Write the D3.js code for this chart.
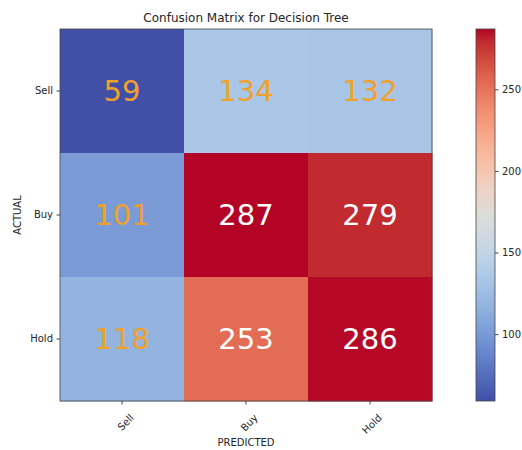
<!DOCTYPE html>
<html>
<head>
<meta charset="utf-8">
<script src="https://cdn.jsdelivr.net/npm/d3@7"></script>
<style>
  body { margin: 0; background: #fff; }
  svg text { font-family: "DejaVu Sans", sans-serif; fill: #262626; }
</style>
</head>
<body>
<div id="chart"></div>
<script>
// DATA
const labels = ["Sell", "Buy", "Hold"];
const rowSell = [59, 134, 132];
const rowBuy = [101, 287, 279];
const rowHold = [118, 253, 286];
const matrix = [rowSell, rowBuy, rowHold];
const cbarTicks = [100, 150, 200, 250];

const WIDTH = 522;
const HEIGHT = 450;

// coolwarm (Moreland) control colours; the blue half is a bit muted in the print
const coolwarmRaw = [
  [59,76,192],[68,90,204],[77,104,215],[87,117,225],[98,130,234],[108,142,241],
  [119,154,247],[130,165,251],[141,176,254],[152,185,255],[163,194,255],[174,201,253],
  [184,208,249],[194,213,244],[204,217,238],[213,219,230],[221,221,221],[229,216,209],
  [236,211,197],[241,204,185],[245,196,173],[247,187,160],[247,177,148],[247,166,135],
  [244,154,123],[241,141,111],[236,127,99],[229,112,88],[222,96,77],[213,80,66],
  [203,62,56],[192,40,47],[180,4,38]
];
const fade = d3.scaleLinear().domain([0, 0.25, 0.33, 0.55, 1]).range([0.87, 0.87, 0.91, 1, 1]).clamp(true);
const coolwarm = coolwarmRaw.map((c, i) => {
  const t = i / (coolwarmRaw.length - 1);
  const kr = t < 0.5 ? 6 * (1 - 2 * t) : 0;
  return d3.rgb(c[0] + kr, c[1] + kr * 0.5, c[2] * fade(t)).formatHex();
});

const flat = matrix.flat();
const vmin = d3.min(flat), vmax = d3.max(flat);
const norm = d3.scaleLinear().domain([vmin, vmax]).range([0, 1]);
const cmap = d3.scaleLinear()
  .domain(coolwarm.map((c, i) => i / (coolwarm.length - 1)))
  .range(coolwarm)
  .interpolate(d3.interpolateRgb)
  .clamp(true);
const colour = v => cmap(norm(v));

const svg = d3.select("#chart").append("svg")
  .attr("width", WIDTH).attr("height", HEIGHT);

const x = d3.scaleBand().domain(labels).range([60, 432]);
const y = d3.scaleBand().domain(labels).range([29, 401]);

const cells = [];
matrix.forEach((row, i) => row.forEach((v, j) => cells.push({ actual: labels[i], pred: labels[j], v })));

svg.append("g").selectAll("rect").data(cells).join("rect")
  .attr("x", d => x(d.pred))
  .attr("y", d => y(d.actual))
  .attr("width", x.bandwidth() + 0.5)
  .attr("height", y.bandwidth() + 0.5)
  .attr("fill", d => colour(d.v));

const thresh = (vmin + vmax) / 2;
svg.append("g").selectAll("text").data(cells).join("text")
  .attr("x", d => x(d.pred) + x.bandwidth() / 2)
  .attr("y", d => y(d.actual) + y.bandwidth() / 2)
  .attr("text-anchor", "middle")
  .attr("dy", "0.36em")
  .style("font-size", "29px")
  .style("fill", d => d.v > thresh ? "#ffffff" : "#f0a02c")
  .text(d => d.v);

svg.append("rect")
  .attr("x", 60).attr("y", 29).attr("width", 372).attr("height", 372)
  .attr("fill", "none").attr("stroke", "#444").attr("stroke-width", 0.8);

// axes
const yAxis = svg.append("g").attr("transform", "translate(60,0)")
  .call(d3.axisLeft(y).tickSize(3.5).tickPadding(3.5));
const xAxis = svg.append("g").attr("transform", "translate(0,401)")
  .call(d3.axisBottom(x).tickSize(3.5).tickPadding(3.5));
[xAxis, yAxis].forEach(a => {
  a.select(".domain").remove();
  a.selectAll("line").attr("stroke", "#444");
  a.selectAll("text").style("font-size", "10px").style("font-family", "DejaVu Sans").attr("fill", "#333");
});
xAxis.selectAll("text")
  .attr("text-anchor", "end")
  .attr("dy", "0.35em")
  .attr("transform", "translate(5,10) rotate(-45)");

svg.append("text")
  .attr("x", 246).attr("y", 22)
  .attr("text-anchor", "middle")
  .style("font-size", "12px")
  .text("Confusion Matrix for Decision Tree");

svg.append("text")
  .attr("x", 246).attr("y", 446)
  .attr("text-anchor", "middle")
  .style("font-size", "10px")
  .text("PREDICTED");

svg.append("text")
  .attr("transform", "translate(21,215) rotate(-90)")
  .attr("text-anchor", "middle")
  .style("font-size", "10px")
  .text("ACTUAL");

// colorbar
const cbX = 476, cbW = 19, cbTop = 29, cbBot = 401;
const cbScale = d3.scaleLinear().domain([vmin, vmax]).range([cbBot, cbTop]);
const defs = svg.append("defs");
const grad = defs.append("linearGradient").attr("id", "cbgrad")
  .attr("x1", 0).attr("y1", 1).attr("x2", 0).attr("y2", 0);
grad.selectAll("stop").data(coolwarm).join("stop")
  .attr("offset", (c, i) => i / (coolwarm.length - 1))
  .attr("stop-color", c => c);
svg.append("rect")
  .attr("x", cbX).attr("y", cbTop).attr("width", cbW).attr("height", cbBot - cbTop)
  .attr("fill", "url(#cbgrad)")
  .attr("stroke", "#444").attr("stroke-width", 0.8);
const cbAxis = svg.append("g").attr("transform", `translate(${cbX + cbW},0)`)
  .call(d3.axisRight(cbScale).tickValues(cbarTicks).tickSize(3.5).tickPadding(3.5));
cbAxis.select(".domain").remove();
cbAxis.selectAll("line").attr("stroke", "#444");
cbAxis.selectAll("text").style("font-size", "10px").style("font-family", "DejaVu Sans").attr("fill", "#333");
</script>
</body>
</html>
